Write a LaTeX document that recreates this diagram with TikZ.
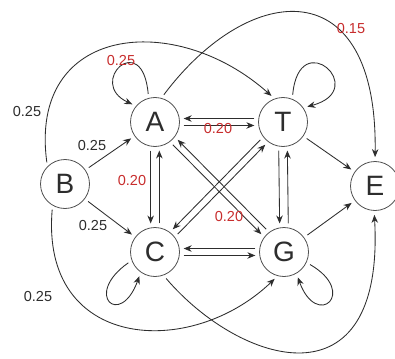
\documentclass[tikz,border=0pt]{standalone}
\usepackage{fontspec}
\setmainfont{Liberation Sans}
\usetikzlibrary{arrows.meta}
\definecolor{ln}{RGB}{45,45,45}
\definecolor{cb}{RGB}{80,80,80}
\definecolor{lab}{RGB}{200,45,45}
\begin{document}
\begin{tikzpicture}[x=1pt,y=1pt,
  st/.style={circle,draw=cb,line width=0.8pt,minimum size=49pt,inner sep=0pt,text=ln,font=\fontsize{28}{28}\selectfont},
  arr/.style={draw=ln,line width=0.85pt,-{Stealth[length=8pt,width=6.5pt]},shorten >=4pt,shorten <=4pt},
  lbl/.style={font=\fontsize{14.5}{14.5}\selectfont,text=ln,inner sep=0pt},
  rlbl/.style={font=\fontsize{14.5}{14.5}\selectfont,text=lab,inner sep=0pt}]
\fill[white] (0,0) rectangle (395,-358);
\path[use as bounding box] (0,0) rectangle (395,-358);
\node[st] (A) at (155,-122) {A};
\node[st] (T) at (283,-122) {T};
\node[st] (B) at (65,-184) {B};
\node[st] (C) at (155,-252) {C};
\node[st] (G) at (284,-252) {G};
\node[st] (E) at (375,-186) {E};
% double arrows
\draw[arr] (T.172) -- (A.8);
\draw[arr] (A.-8) -- (T.188);
\draw[arr] (A.260) -- (C.100);
\draw[arr] (C.80) -- (A.280);
\draw[arr] (T.260) -- (G.100);
\draw[arr] (G.80) -- (T.280);
\draw[arr] (G.172) -- (C.8);
\draw[arr] (C.-8) -- (G.188);
\draw[arr] (G.127) -- (A.-37);
\draw[arr] (A.-53) -- (G.143);
\draw[arr] (C.37) -- (T.233);
\draw[arr] (T.217) -- (C.53);
% straight
\draw[arr] (B) -- (A);
\draw[arr] (B) -- (C);
\draw[arr] (T) -- (E);
\draw[arr] (G) -- (E);
% curves
\draw[arr] (B.135) .. controls (28,-25) and (175,-10) .. (T.110);
\draw[arr] (A.75) .. controls (250,20) and (378,30) .. (E.90);
\draw[arr] (B.240) .. controls (40,-350) and (190,-360) .. (G.255);
\draw[arr] (C.-70) .. controls (240,-365) and (385,-410) .. (E.268);
% loops
\draw[arr] (A.105) .. controls +(95:70) and +(155:55) .. (A.140);
\draw[arr] (T.68) .. controls +(85:75) and +(15:70) .. (T.35);
\draw[arr] (C.200) .. controls +(215:60) and +(250:60) .. (C.235);
\draw[arr] (G.-25) .. controls +(-30:60) and +(-70:60) .. (G.-60);
% labels
\node[lbl] (l1) at (27,-112) {0.25};
\node[lbl] (l2) at (92,-146) {0.25};
\node[lbl] (l3) at (93,-226) {0.25};
\node[lbl] (l4) at (38,-297) {0.25};
\node[rlbl] (l5) at (121,-61) {0.25};
\node[rlbl] (l6) at (218,-129) {0.20};
\node[rlbl] (l7) at (132,-181) {0.20};
\node[rlbl] (l8) at (229,-217) {0.20};
\node[rlbl] (l9) at (351,-29) {0.15};
\end{tikzpicture}
\end{document}
